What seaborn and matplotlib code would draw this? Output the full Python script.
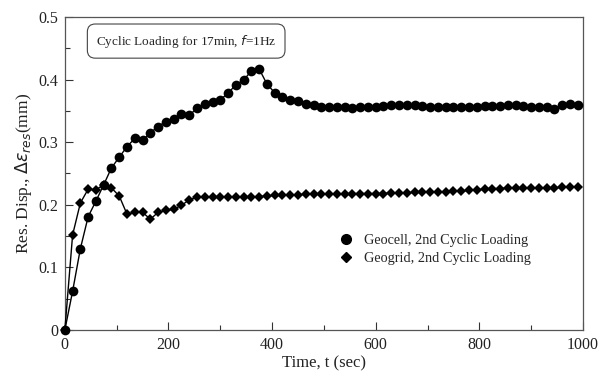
import numpy as np
import pandas as pd
import matplotlib
matplotlib.use("Agg")
import matplotlib.pyplot as plt
import seaborn as sns
from matplotlib.ticker import MultipleLocator
from matplotlib.lines import Line2D

time_s = list(range(0, 1000, 15))

geocell = [0.000, 0.062, 0.130, 0.181, 0.206, 0.232, 0.259, 0.276, 0.293, 0.306,
           0.303, 0.315, 0.325, 0.333, 0.337, 0.345, 0.343, 0.354, 0.361, 0.364,
           0.368, 0.378, 0.392, 0.399, 0.414, 0.417, 0.393, 0.379, 0.372, 0.368,
           0.365, 0.361, 0.359, 0.357, 0.357, 0.356, 0.356, 0.355, 0.356, 0.357,
           0.357, 0.358, 0.359, 0.360, 0.359, 0.359, 0.358, 0.357, 0.356, 0.356,
           0.356, 0.357, 0.357, 0.357, 0.358, 0.358, 0.358, 0.359, 0.359, 0.358,
           0.357, 0.357, 0.357, 0.353, 0.360, 0.361, 0.360]

geogrid = [0.000, 0.152, 0.203, 0.225, 0.224, 0.232, 0.227, 0.214, 0.185, 0.188,
           0.188, 0.177, 0.188, 0.191, 0.193, 0.199, 0.208, 0.212, 0.212, 0.212,
           0.212, 0.212, 0.212, 0.212, 0.213, 0.213, 0.214, 0.215, 0.215, 0.216,
           0.216, 0.217, 0.217, 0.217, 0.217, 0.217, 0.217, 0.218, 0.218, 0.218,
           0.218, 0.218, 0.219, 0.219, 0.219, 0.220, 0.220, 0.220, 0.221, 0.221,
           0.222, 0.222, 0.223, 0.224, 0.225, 0.226, 0.226, 0.227, 0.227, 0.227,
           0.227, 0.227, 0.227, 0.227, 0.228, 0.228, 0.228]

labels = ["Geocell, 2nd Cyclic Loading", "Geogrid, 2nd Cyclic Loading"]
x_ticks = [0, 200, 400, 600, 800, 1000]
y_ticks = [0, 0.1, 0.2, 0.3, 0.4, 0.5]
y_tick_labels = ["0", "0.1", "0.2", "0.3", "0.4", "0.5"]

sns.set_style("ticks")
plt.rcParams['font.family'] = ['Liberation Serif', 'DejaVu Serif']
plt.rcParams['mathtext.fontset'] = 'dejavusans'

df = pd.DataFrame({
    "t": time_s * 2,
    "v": geocell + geogrid,
    "series": [labels[0]] * len(time_s) + [labels[1]] * len(time_s),
})

fig = plt.figure(figsize=(6.06, 3.74), dpi=100)
ax = fig.add_axes([0.107, 0.1176, 0.855, 0.837])

sns.lineplot(data=df, x="t", y="v", hue="series", style="series",
             markers={labels[0]: "o", labels[1]: "D"}, dashes=False,
             palette=["black", "black"], linewidth=1.0, ax=ax,
             markersize=6.5, markeredgewidth=0, legend=False)
for line, ms in zip(ax.lines, [7.0, 4.8]):
    line.set_markersize(ms)
    line.set_clip_on(False)
    line.set_zorder(5)

ax.set_xlim(0, 1000)
ax.set_ylim(0, 0.5)
ax.set_xticks(x_ticks)
ax.set_yticks(y_ticks)
ax.set_yticklabels(y_tick_labels)
ax.xaxis.set_minor_locator(MultipleLocator(100))
ax.yaxis.set_minor_locator(MultipleLocator(0.05))
ax.tick_params(which="major", direction="in", length=6, width=0.8, labelsize=11.5,
               colors="#333333", labelcolor="#222222", pad=5)
ax.tick_params(which="minor", direction="in", length=3.5, width=0.8, colors="#333333")
for sp in ax.spines.values():
    sp.set_linewidth(0.9)
    sp.set_color("#555555")

ax.set_xlabel("Time, t (sec)", fontsize=12, labelpad=2, color="#222222")
ax.set_ylabel(r"Res. Disp., $\Delta\epsilon_{res}$(mm)", fontsize=12.5, labelpad=3, color="#222222")

ax.text(0.06, 0.923, r"Cyclic Loading for 17min, $\it{f}$=1Hz", transform=ax.transAxes,
        fontsize=9.5, va="center", ha="left",
        bbox=dict(boxstyle="round,pad=0.65,rounding_size=0.6", fc="white", ec="#444444", lw=0.8))

handles = [Line2D([], [], color="black", marker="o", linestyle="none", markersize=7),
           Line2D([], [], color="black", marker="D", linestyle="none", markersize=5)]
ax.legend(handles, labels, loc="center left", bbox_to_anchor=(0.49, 0.256),
          frameon=False, fontsize=10.3, handletextpad=0.25, labelspacing=0.35)

fig.savefig("out.png", dpi=100)
